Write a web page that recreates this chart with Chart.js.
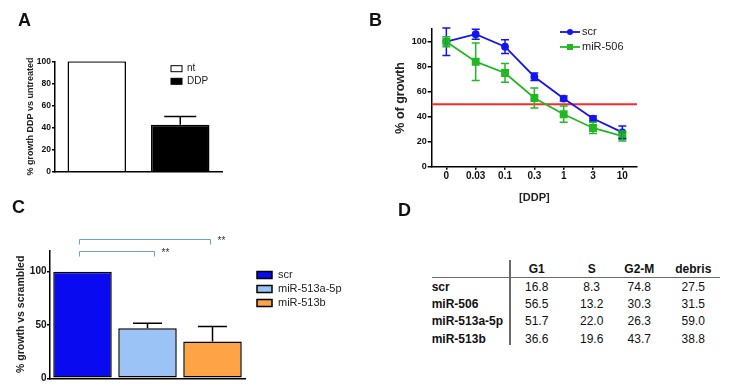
<!DOCTYPE html>
<html>
<head>
<meta charset="utf-8">
<script src="https://cdn.jsdelivr.net/npm/chart.js@4.4.0/dist/chart.umd.min.js"></script>
<style>
  body { margin: 0; background: #fff; width: 730px; height: 387px; position: relative; overflow: hidden;
         font-family: "Liberation Sans", Arial, sans-serif; }
  canvas { position: absolute; }
  .lbl { position: absolute; font-weight: bold; font-size: 18px; line-height: 18px; color: #111; }
  .cell { position: absolute; font-size: 12px; line-height: 14px; white-space: nowrap; color: #111; }
  .ctr { transform: translate(-50%, -50%); }
  .lft { transform: translateY(-50%); }
  .b { font-weight: bold; }
  .rule { position: absolute; background: #6a6a6a; }
</style>
</head>
<body>
<canvas id="chartA" width="250" height="190" style="left:0;top:0"></canvas>
<canvas id="chartB" width="360" height="210" style="left:370px;top:0"></canvas>
<canvas id="chartC" width="370" height="197" style="left:0;top:190px"></canvas>
<div id="tableD"></div>
<div class="lbl" style="left:18px;top:11px">A</div>
<div class="lbl" style="left:369px;top:11px">B</div>
<div class="lbl" style="left:12px;top:198px">C</div>
<div class="lbl" style="left:398px;top:201px">D</div>
<script>
  const FONT = '"Liberation Sans", Arial, sans-serif';
  Chart.defaults.font.family = FONT;
  Chart.defaults.color = '#111';

  // ---------- panel A ----------
  const aLabels = ['nt', 'DDP'];
  const aValues = [100, 42.5];
  const aErrors = [0, 7.5];
  const aYTicks = [0, 20, 40, 60, 80, 100];

  // ---------- panel B ----------
  const bDoses = ['0', '0.03', '0.1', '0.3', '1', '3', '10'];
  const bScr = [100, 106, 96, 72, 54.5, 38.5, 27.5];
  const bScrErr = [11, 4, 5.5, 3, 2, 2, 5];
  const bMir506 = [100, 84, 75, 55, 42, 31, 24.5];
  const bMir506Err = [4, 15, 7.5, 8, 6.5, 4.5, 4];
  const bYTicks = [0, 20, 40, 60, 80, 100];
  const bCutoff = 50;

  // ---------- panel C ----------
  const cLabels = ['scr', 'miR-513a-5p', 'miR-513b'];
  const cValues = [100, 47, 34.5];
  const cErrors = [0, 4.5, 14];
  const cYTicks = [0, 50, 100];
  const cSigPairs = [[0, 1], [0, 2]];
  const cSigLevels = [119.6, 130.6];
  const cSigMarks = ['**', '**'];

  // ---------- panel D ----------
  const dCols = ['G1', 'S', 'G2-M', 'debris'];
  const dRows = ['scr', 'miR-506', 'miR-513a-5p', 'miR-513b'];
  const dG1 = [16.8, 56.5, 51.7, 36.6];
  const dS = [8.3, 13.2, 22.0, 19.6];
  const dG2M = [74.8, 30.3, 26.3, 43.7];
  const dDebris = [27.5, 31.5, 59.0, 38.8];

  /*
    ================= plugins =================
  */

  const errBars = {
    id: 'errBars',
    afterDatasetsDraw(chart, args, o) {
      const { ctx, scales: { y } } = chart;
      chart.data.datasets.forEach((ds, i) => {
        if (!ds.errors) return;
        chart.getDatasetMeta(i).data.forEach((el, j) => {
          const e = ds.errors[j];
          if (!e) return;
          const v = ds.data[j];
          const top = y.getPixelForValue(v + e);
          const bot = o.upOnly ? el.y : y.getPixelForValue(v - e);
          const half = o.cap / 2;
          ctx.save();
          ctx.strokeStyle = ds.borderColor;
          ctx.lineWidth = o.width;
          ctx.beginPath();
          ctx.moveTo(el.x, bot); ctx.lineTo(el.x, top);
          ctx.moveTo(el.x - half, top); ctx.lineTo(el.x + half, top);
          if (!o.upOnly) { ctx.moveTo(el.x - half, bot); ctx.lineTo(el.x + half, bot); }
          ctx.stroke();
          ctx.restore();
        });
      });
    }
  };

  const refLine = {
    id: 'refLine',
    beforeDatasetsDraw(chart, args, o) {
      const { ctx, chartArea, scales: { y } } = chart;
      const py = y.getPixelForValue(o.value);
      ctx.save();
      ctx.strokeStyle = o.color;
      ctx.lineWidth = o.width;
      ctx.beginPath();
      ctx.moveTo(chartArea.left, py); ctx.lineTo(chartArea.right, py);
      ctx.stroke();
      ctx.restore();
    }
  };

  const boxLegend = {
    id: 'boxLegend',
    afterDraw(chart, args, o) {
      const ctx = chart.ctx;
      const ds0 = chart.data.datasets[0];
      const items = o.mode === 'datasets'
        ? chart.data.datasets.map(d => ({ text: d.label, fill: d.backgroundColor, stroke: d.borderColor, point: d.pointStyle }))
        : chart.data.labels.map((t, i) => ({ text: t, fill: ds0.backgroundColor[i], stroke: ds0.borderColor }));
      ctx.save();
      ctx.font = o.fontSize + 'px ' + FONT;
      ctx.textBaseline = 'middle';
      items.forEach((it, i) => {
        const cy = o.y + i * o.step;
        if (o.kind === 'line') {
          ctx.strokeStyle = it.stroke; ctx.lineWidth = 1.8;
          ctx.beginPath(); ctx.moveTo(o.x, cy); ctx.lineTo(o.x + o.w, cy); ctx.stroke();
          ctx.fillStyle = it.fill;
          const mx = o.x + o.w / 2;
          if (it.point === 'rect') ctx.fillRect(mx - 3, cy - 3, 6, 6);
          else { ctx.beginPath(); ctx.arc(mx, cy, 3, 0, Math.PI * 2); ctx.fill(); }
        } else {
          ctx.fillStyle = it.fill;
          ctx.fillRect(o.x, cy - o.h / 2, o.w, o.h);
          ctx.strokeStyle = it.stroke; ctx.lineWidth = o.lw;
          ctx.strokeRect(o.x, cy - o.h / 2, o.w, o.h);
        }
        ctx.fillStyle = '#222';
        ctx.fillText(it.text, o.textX, cy);
      });
      ctx.restore();
    }
  };

  const sigBrackets = {
    id: 'sigBrackets',
    afterDraw(chart, args, o) {
      const { ctx, scales: { x, y } } = chart;
      ctx.save();
      ctx.strokeStyle = o.color;
      ctx.lineWidth = 1;
      ctx.font = '10px ' + FONT;
      ctx.textBaseline = 'top';
      cSigPairs.forEach(([a, b], i) => {
        const x1 = x.getPixelForValue(a) - 3;
        const x2 = x.getPixelForValue(b) + (i === 0 ? 7 : -2);
        const py = Math.round(y.getPixelForValue(cSigLevels[i])) + 0.5;
        ctx.beginPath();
        ctx.moveTo(x1, py + o.drop); ctx.lineTo(x1, py); ctx.lineTo(x2, py); ctx.lineTo(x2, py + o.drop);
        ctx.stroke();
        ctx.fillStyle = '#333';
        ctx.fillText(cSigMarks[i], x2 + 7, py - 3);
      });
      ctx.restore();
    }
  };

  const axisGrid = (len) => ({ drawOnChartArea: false, tickLength: len, color: '#000', lineWidth: 1.5 });
  const axisBorder = { color: '#000', width: 1.5 };
  const setTicks = (list) => (s) => { s.ticks = list.map(v => ({ value: v })); };

  /*
    ================= chart A =================
  */
  new Chart(document.getElementById('chartA'), {
    type: 'bar',
    data: {
      labels: aLabels,
      datasets: [{
        data: aValues, errors: aErrors,
        backgroundColor: ['#ffffff', '#000000'], borderColor: '#000', borderWidth: 1.5,
        barPercentage: 0.7, categoryPercentage: 1
      }]
    },
    options: {
      responsive: false, animation: false, devicePixelRatio: 1,
      layout: { padding: { left: 0, top: 61.3, right: 28, bottom: 0 } },
      plugins: {
        legend: { display: false }, tooltip: { enabled: false },
        errBars: { cap: 32, width: 1.5, upOnly: true },
        boxLegend: { mode: 'categories', kind: 'box', x: 171, y: 68.7, step: 12.6, w: 11, h: 6, lw: 1, textX: 187, fontSize: 10 }
      },
      scales: {
        x: { grid: { display: false }, ticks: { display: false }, border: axisBorder,
             afterFit: s => { s.height = 18.3; } },
        y: { min: 0, max: 100, afterBuildTicks: setTicks(aYTicks),
             grid: axisGrid(3), border: axisBorder,
             ticks: { padding: 1, font: { size: 8.5, weight: 'bold' } },
             title: { display: true, text: '% growth DDP vs untreated', color: '#222',
                      font: { size: 9, weight: 'bold' }, padding: { top: 25, bottom: 0 } },
             afterFit: s => { s.width = 55; } }
      }
    },
    plugins: [errBars, boxLegend]
  });

  /*
    ================= chart B =================
  */
  new Chart(document.getElementById('chartB'), {
    type: 'line',
    data: {
      labels: bDoses,
      datasets: [
        { label: 'scr', data: bScr, errors: bScrErr, borderColor: '#1414f0', backgroundColor: '#1414f0',
          borderWidth: 1.8, pointStyle: 'circle', pointRadius: 3, order: 1 },
        { label: 'miR-506', data: bMir506, errors: bMir506Err, borderColor: '#22b822', backgroundColor: '#22b822',
          borderWidth: 1.8, pointStyle: 'rect', pointRadius: 4.3, order: 0 }
      ]
    },
    options: {
      responsive: false, animation: false, devicePixelRatio: 1,
      layout: { padding: { left: 0, top: 29.2, right: 93, bottom: 0 } },
      plugins: {
        legend: { display: false }, tooltip: { enabled: false },
        refLine: { value: bCutoff, color: '#ff2a2a', width: 2 },
        errBars: { cap: 8, width: 1.5, upOnly: false },
        boxLegend: { mode: 'datasets', kind: 'line', x: 190, y: 32, step: 15, w: 20, textX: 212, fontSize: 11 }
      },
      scales: {
        x: { offset: true, grid: { display: true, drawOnChartArea: false, tickLength: 3, color: '#000', lineWidth: 1.5 },
             border: axisBorder,
             ticks: { padding: 1, autoSkip: false, maxRotation: 0, font: { size: 10, weight: 'bold' } },
             title: { display: true, text: '[DDP]', color: '#222', font: { size: 11, weight: 'bold' }, padding: { top: 0, bottom: 5.4 } },
             afterFit: s => { s.height = 43.3; } },
        y: { min: 0, max: 110, afterBuildTicks: setTicks(bYTicks),
             grid: axisGrid(4), border: axisBorder,
             ticks: { padding: 1, font: { size: 9, weight: 'bold' } },
             title: { display: true, text: '% of growth', color: '#222',
                      font: { size: 12.5, weight: 'bold' }, padding: { top: 23.5, bottom: 0 } },
             afterFit: s => { s.width = 61.7; } }
      }
    },
    plugins: [refLine, errBars, boxLegend]
  });

  /*
    ================= chart C =================
  */
  new Chart(document.getElementById('chartC'), {
    type: 'bar',
    data: {
      labels: cLabels,
      datasets: [{
        data: cValues, errors: cErrors,
        backgroundColor: ['#0a0af0', '#9cc3f5', '#ffa347'], borderColor: '#000', borderWidth: 1.5,
        borderSkipped: false, barPercentage: 0.9, categoryPercentage: 1
      }]
    },
    options: {
      responsive: false, animation: false, devicePixelRatio: 1,
      layout: { padding: { left: 0, top: 60.3, right: 125, bottom: 0 } },
      plugins: {
        legend: { display: false }, tooltip: { enabled: false },
        errBars: { cap: 29, width: 1.5, upOnly: true },
        boxLegend: { mode: 'categories', kind: 'box', x: 257, y: 85, step: 14, w: 15, h: 7, lw: 1.5, textX: 278, fontSize: 11 },
        sigBrackets: { color: '#6f9fd8', drop: 5 }
      },
      scales: {
        x: { grid: { display: false }, ticks: { display: false }, border: axisBorder,
             afterFit: s => { s.height = 8.7; } },
        y: { min: 0, max: 120, afterBuildTicks: setTicks(cYTicks),
             grid: axisGrid(3), border: axisBorder,
             ticks: { padding: 0.5, font: { size: 10, weight: 'bold' } },
             title: { display: true, text: '% growth vs scrambled', color: '#222',
                      font: { size: 10.5, weight: 'bold' }, padding: { top: 15.2, bottom: 0 } },
             afterFit: s => { s.width = 50; } }
      }
    },
    plugins: [errBars, boxLegend, sigBrackets]
  });

  /*
    ================= table D =================
  */
  const tableD = document.getElementById('tableD');
  const dColX = [536.7, 591.7, 639.3, 693.3];
  const dHeadY = 269.3, dRowY0 = 287, dRowStep = 17.2;
  const addCell = (text, x, y, cls) => {
    const el = document.createElement('div');
    el.className = 'cell ' + cls;
    el.style.left = x + 'px';
    el.style.top = y + 'px';
    el.textContent = text;
    tableD.appendChild(el);
  };
  const addRule = (l, t, w, h) => {
    const el = document.createElement('div');
    el.className = 'rule';
    Object.assign(el.style, { left: l + 'px', top: t + 'px', width: w + 'px', height: h + 'px' });
    tableD.appendChild(el);
  };
  addRule(509.3, 260, 1.5, 85);
  addRule(431.7, 276.5, 288.3, 1.5);
  dCols.forEach((c, j) => addCell(c, dColX[j], dHeadY, 'ctr b'));
  const dColumns = [dG1, dS, dG2M, dDebris];
  dRows.forEach((r, i) => {
    const y = dRowY0 + i * dRowStep;
    addCell(r, 431.7, y, 'lft b');
    dColumns.forEach((col, j) => addCell(col[i].toFixed(1), dColX[j], y, 'ctr'));
  });
</script>
</body>
</html>
